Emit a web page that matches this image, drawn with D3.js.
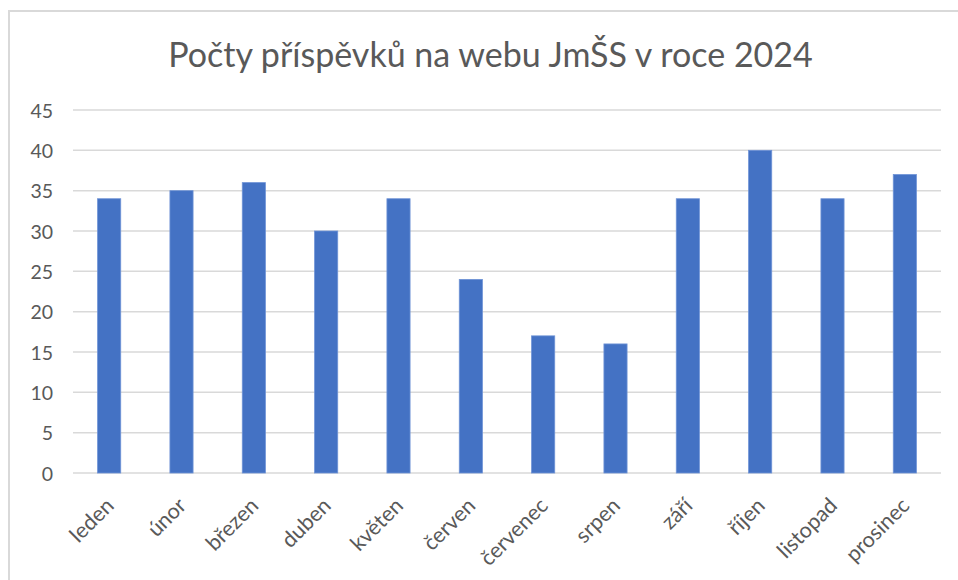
<!DOCTYPE html>
<html>
<head>
<meta charset="utf-8">
<script src="https://cdn.jsdelivr.net/npm/d3@7"></script>
<style>
  html, body { margin: 0; padding: 0; background: #fff; }
  svg { display: block; }
  text { font-family: "Lato", "Open Sans", sans-serif; fill: #595959; }
</style>
</head>
<body>
<div id="chart"></div>
<script>
// data
const months = ["leden", "únor", "březen", "duben", "květen", "červen",
  "červenec", "srpen", "září", "říjen", "listopad", "prosinec"];
const posts = [34, 35, 36, 30, 34, 24, 17, 16, 34, 40, 34, 37];
const yTicks = [0, 5, 10, 15, 20, 25, 30, 35, 40, 45];
const title = "Počty příspěvků na webu JmŠS v roce 2024";

const W = 958, H = 580;
const plot = { left: 73, right: 941, top: 110, bottom: 473 };

const svg = d3.select("#chart").append("svg")
  .attr("width", W).attr("height", H);

// chart frame (cut at right and bottom like the screenshot)
svg.append("path")
  .attr("d", `M9,${H + 2}V11H${W + 2}`)
  .attr("fill", "none")
  .attr("stroke", "#d9d9d9")
  .attr("stroke-width", 2);

const x = d3.scaleBand()
  .domain(months)
  .range([plot.left, plot.right])
  .paddingInner(0.68)
  .paddingOuter(0.34);

const y = d3.scaleLinear()
  .domain([0, 45])
  .range([plot.bottom, plot.top]);

// gridlines
svg.append("g")
  .selectAll("line")
  .data(yTicks)
  .join("line")
  .attr("x1", plot.left).attr("x2", plot.right)
  .attr("y1", d => y(d)).attr("y2", d => y(d))
  .attr("stroke", "#d9d9d9")
  .attr("stroke-width", 1.5);

// y axis labels
const yAxis = svg.append("g")
  .attr("transform", `translate(${plot.left - 20},0)`)
  .call(d3.axisLeft(y).tickValues(yTicks).tickSize(0).tickPadding(0));
yAxis.select(".domain").remove();
yAxis.selectAll("text")
  .attr("font-size", 19.5)
  .attr("font-family", "Lato")
  .attr("fill", "#595959")
  .attr("dy", "0.36em");

// bars
svg.append("g")
  .selectAll("rect")
  .data(posts)
  .join("rect")
  .attr("x", (d, i) => x(months[i]))
  .attr("width", x.bandwidth())
  .attr("y", d => y(d))
  .attr("height", d => y(0) - y(d))
  .attr("fill", "#4472c4")
  .attr("stroke", "#6f93d6")
  .attr("stroke-width", 0.8);

// x axis labels, rotated
const xAxis = svg.append("g")
  .attr("transform", `translate(0,${plot.bottom})`)
  .call(d3.axisBottom(x).tickSize(0).tickPadding(0));
xAxis.select(".domain").remove();
xAxis.selectAll("text")
  .attr("font-size", 21.5)
  .attr("font-family", "Lato")
  .attr("fill", "#595959")
  .attr("text-anchor", "end")
  .attr("dy", 0)
  .attr("y", 0)
  .attr("transform", "translate(6,34) rotate(-45)");

// title, fitted to the width seen in the picture
const t = svg.append("text")
  .attr("x", 490.5)
  .attr("y", 67)
  .attr("text-anchor", "middle")
  .attr("font-size", 30)
  .attr("fill", "#595959")
  .text(title);
const tw = t.node().getComputedTextLength();
t.attr("font-size", 30 * 645 / tw);
</script>
</body>
</html>
